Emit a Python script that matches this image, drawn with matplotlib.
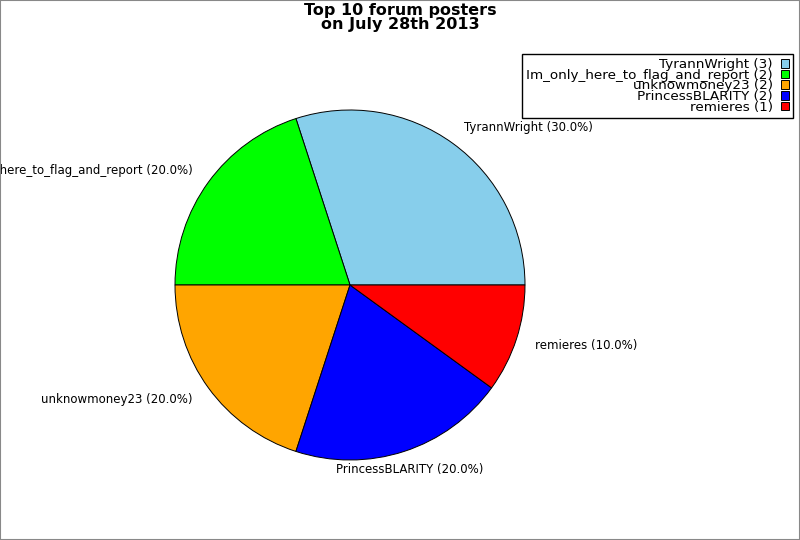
import matplotlib
matplotlib.use("Agg")
import matplotlib.pyplot as plt
from matplotlib.patches import Rectangle

names = ["TyrannWright", "Im_only_here_to_flag_and_report", "unknowmoney23", "PrincessBLARITY", "remieres"]
counts = [3, 2, 2, 2, 1]
colors = ["#87ceeb", "#00ff00", "#ffa500", "#0000ff", "#ff0000"]
title = "Top 10 forum posters\non July 28th 2013"

W, H = 800, 540
fig = plt.figure(figsize=(W / 100, H / 100), dpi=100)
fig.patches.append(Rectangle((0, 0), 1, 1, transform=fig.transFigure, fill=False,
                             edgecolor="#888888", linewidth=1.5))

cx, cy, r = 350, 285, 175
ax = fig.add_axes([(cx - r) / W, (H - cy - r) / H, 2 * r / W, 2 * r / H])
total = sum(counts)
labels = [f"{n} ({c / total * 100:.1f}%)" for n, c in zip(names, counts)]
wedges, texts = ax.pie(counts, colors=colors, labels=labels, startangle=0,
                       counterclock=True, labeldistance=1.11,
                       wedgeprops=dict(edgecolor="black", linewidth=0.7),
                       textprops=dict(fontsize=8.5))
texts[3].set_ha("center")
ax.set_xlim(-1, 1)
ax.set_ylim(-1, 1)
ax.set_aspect("equal")
ax.axis("off")

fig.text(0.5, 1 - 3 / H, title, ha="center", va="top", fontsize=11.5,
         fontweight="bold", linespacing=0.95)

leg_labels = [f"{n} ({c})" for n, c in zip(names, counts)]
leg = fig.legend(wedges, leg_labels, loc="upper right",
                 bbox_to_anchor=(793 / W, 1 - 54 / H), markerfirst=False,
                 fontsize=9.7, frameon=True, fancybox=False, framealpha=1,
                 edgecolor="black", labelspacing=-0.17, handlelength=0.6,
                 handleheight=0.6, handletextpad=0.6, borderpad=0.3,
                 borderaxespad=0)
for t in leg.get_texts():
    t.set_ha("right")
leg._legend_box.align = "right"
leg.get_frame().set_linewidth(1.0)

fig.savefig("out.png", dpi=100)
